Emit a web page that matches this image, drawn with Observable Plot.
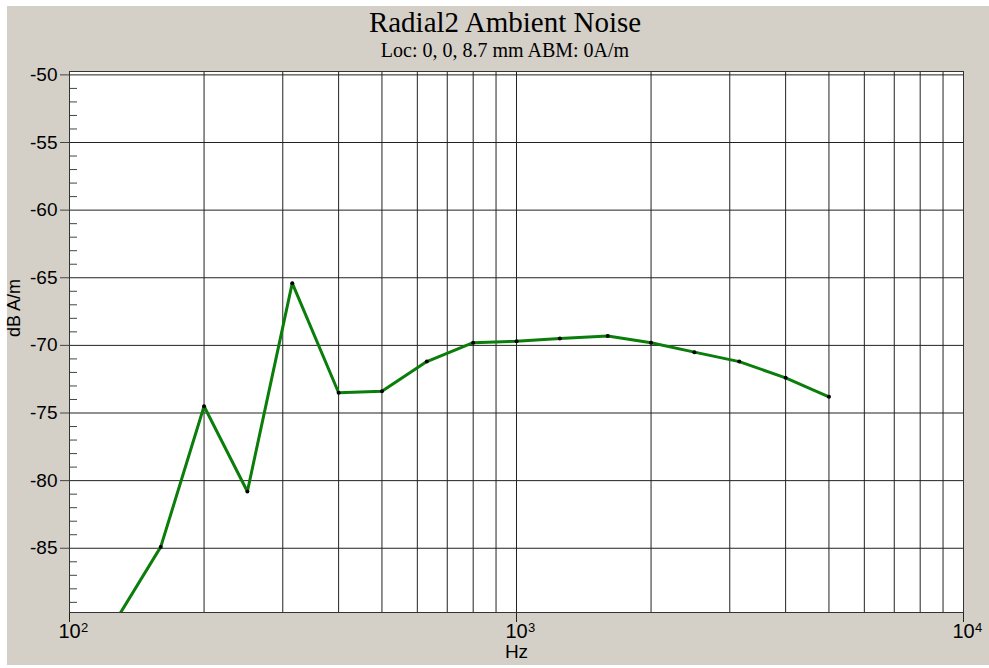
<!DOCTYPE html>
<html><head><meta charset="utf-8">
<script src="https://cdn.jsdelivr.net/npm/d3@7"></script>
<script src="https://cdn.jsdelivr.net/npm/@observablehq/plot@0.6"></script>
<style>
body{margin:0;background:#fff;}
#wrap{position:relative;width:989px;height:668px;overflow:hidden;background:#fff;}
#bg{position:absolute;left:7px;top:6px;width:982px;height:659px;background:#d4d0c8;}
.t{position:absolute;left:0;width:1010px;text-align:center;color:#000;font-family:"Liberation Serif","Times New Roman",serif;line-height:1;white-space:nowrap;}
#title{top:8px;font-size:29px;}
#subtitle{top:40px;font-size:20px;}
#chart{position:absolute;left:0;top:60px;}
</style></head>
<body>
<div id="wrap">
  <div id="bg"></div>
  <div id="title" class="t">Radial2 Ambient Noise</div>
  <div id="subtitle" class="t">Loc: 0, 0, 8.7 mm ABM: 0A/m</div>
  <div id="chart"></div>
</div>
<script>
// Data (1/3-octave bands)
const freqHz = [125, 160, 200, 250, 315, 400, 500, 630, 800, 1000, 1250, 1600, 2000, 2500, 3150, 4000, 5000];
const levelDb = [-90.7, -84.9, -74.5, -80.8, -65.4, -73.5, -73.4, -71.2, -69.8, -69.7, -69.5, -69.3, -69.8, -70.5, -71.2, -72.4, -73.8];

// Axis / tick values
const xDecades = [100, 1000, 10000];
const xExponents = ["2", "3", "4"];
const xGrid = [200, 300, 400, 500, 600, 700, 800, 900, 1000, 2000, 3000, 4000, 5000, 6000, 7000, 8000, 9000];
const yMajor = [-85, -80, -75, -70, -65, -60, -55, -50];
const yMinor = d3.range(-89, -49, 1).filter(v => v % 5 !== 0);
const yDomain = [-89.75, -49.75];

const data = freqHz.map((f, i) => ({f, db: levelDb[i]}));
const decades = xDecades.map((d, i) => ({d, e: xExponents[i]}));

const chart = Plot.plot({
  width: 989,
  height: 608,
  marginTop: 11,
  marginLeft: 69,
  marginRight: 26,
  marginBottom: 56,
  x: {type: "log", domain: [100, 10000], label: null},
  y: {domain: yDomain, label: null},
  style: {background: "transparent", fontFamily: '"Liberation Sans", Arial, sans-serif', fontSize: "18px", color: "#000"},
  marks: [
    Plot.frame({fill: "#fff", stroke: "none"}),
    Plot.ruleX(xGrid, {stroke: "#222", strokeWidth: 1}),
    Plot.ruleY(yMajor, {stroke: "#222", strokeWidth: 1}),
    Plot.axisY({ticks: yMinor, tickSize: 8, dx: 8, tickFormat: () => "", stroke: "#444", label: null}),
    Plot.axisY({ticks: yMajor, tickSize: 9, tickPadding: 3, tickFormat: d => String(d), stroke: "#444", label: null, fontSize: 19}),
    Plot.axisX({ticks: xDecades, tickSize: 10, tickFormat: () => "", stroke: "#222", label: null}),
    Plot.text(decades, {x: "d", text: () => "10", frameAnchor: "bottom", dy: 25, fontSize: 20}),
    Plot.text(decades, {x: "d", text: "e", frameAnchor: "bottom", dy: 19, dx: 15, fontSize: 13}),
    Plot.text(["Hz"], {text: d => d, frameAnchor: "bottom", dy: 45, fontSize: 19}),
    Plot.text(["dB A/m"], {text: d => d, frameAnchor: "left", dx: -55, dy: -5, rotate: -90, fontSize: 18}),
    Plot.frame({stroke: "#333", strokeWidth: 1}),
    Plot.line(data, {x: "f", y: "db", stroke: "#0a7d0a", strokeWidth: 3, clip: true}),
    Plot.dot(data, {x: "f", y: "db", r: 2, fill: "#000", stroke: "none", clip: true})
  ]
});
document.getElementById("chart").appendChild(chart);
</script>
</body></html>
